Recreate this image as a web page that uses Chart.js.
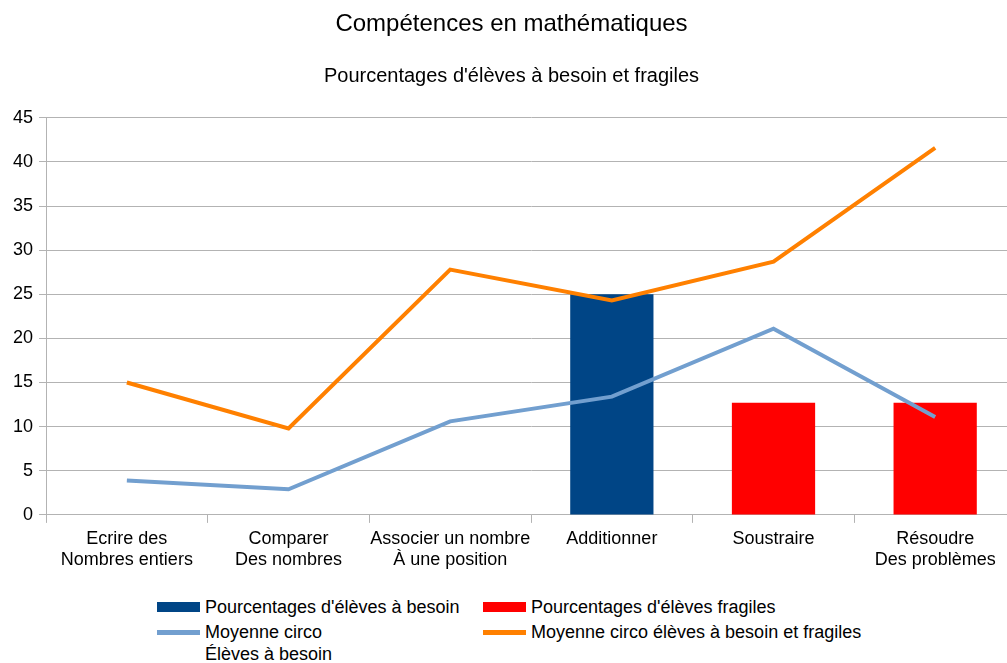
<!DOCTYPE html>
<html>
<head>
<meta charset="utf-8">
<script src="https://cdn.jsdelivr.net/npm/chart.js@4"></script>
<style>
  html, body { margin: 0; padding: 0; background: #fff; overflow: hidden; }
  body { width: 1007px; height: 663px; position: relative; font-family: "Liberation Sans", Arial, sans-serif; }
  #wrap { position: absolute; left: 0; top: 0; width: 1016px; height: 577px; }
  #legend { position: absolute; left: 157px; top: 596px; display: grid; grid-template-columns: 326px 380px; row-gap: 3px; font-size: 18px; color: #000; }
  .item { display: flex; align-items: flex-start; white-space: pre; line-height: 22px; }
  .sw { width: 43px; margin-right: 5px; flex: none; }
</style>
</head>
<body>
<div id="wrap"><canvas id="chart"></canvas></div>
<div id="legend"></div>
<script>
const categories = [
    ["Ecrire des", "Nombres entiers"],
    ["Comparer", "Des nombres"],
    ["Associer un nombre", "À une position"],
    "Additionner",
    "Soustraire",
    ["Résoudre", "Des problèmes"],
];
const besoin = [0, 0, 0, 25, 0, 0];
const fragiles = [0, 0, 0, 0, 12.7, 12.7];
const moyenneBesoin = [3.9, 2.9, 10.6, 13.4, 21.1, 11.1];
const moyenneTotal = [15, 9.8, 27.8, 24.3, 28.7, 41.6];
const yTicks = [0, 5, 10, 15, 20, 25, 30, 35, 40, 45];

const grey = "#b3b3b3";

const datasets = [
    {type: "bar", label: "Pourcentages d'élèves à besoin", data: besoin, backgroundColor: "#004586", grouped: false, order: 2},
    {type: "bar", label: "Pourcentages d'élèves fragiles", data: fragiles, backgroundColor: "#ff0000", grouped: false, order: 2},
    {type: "line", label: "Moyenne circo\nÉlèves à besoin", data: moyenneBesoin, borderColor: "#729fcf", backgroundColor: "#729fcf", borderWidth: 4, pointRadius: 0, order: 0},
    {type: "line", label: "Moyenne circo élèves à besoin et fragiles", data: moyenneTotal, borderColor: "#ff8000", backgroundColor: "#ff8000", borderWidth: 4, pointRadius: 0, order: 0},
];

new Chart(document.getElementById("chart"), {
    type: "bar",
    data: {labels: categories, datasets: datasets},
    options: {
        responsive: true,
        maintainAspectRatio: false,
        animation: false,
        barPercentage: 0.515,
        categoryPercentage: 1,
        layout: {padding: {left: 7, right: 0, top: 0, bottom: 0}},
        plugins: {
            legend: {display: false},
            tooltip: {enabled: false},
            title: {
                display: true,
                text: "Compétences en mathématiques",
                color: "#000",
                font: {family: "Liberation Sans", size: 24, weight: "normal"},
                padding: {top: 10, bottom: 0},
            },
            subtitle: {
                display: true,
                text: "Pourcentages d'élèves à besoin et fragiles",
                color: "#000",
                font: {family: "Liberation Sans", size: 20, weight: "normal"},
                padding: {top: 26, bottom: 29},
            },
        },
        scales: {
            x: {
                offset: true,
                grid: {display: true, drawOnChartArea: false, drawTicks: true, tickLength: 8, color: grey, offset: true},
                border: {color: grey},
                ticks: {color: "#000", font: {family: "Liberation Sans", size: 18, lineHeight: 1.17}, maxRotation: 0, autoSkip: false, padding: 6},
            },
            y: {
                min: 0,
                max: 45,
                afterBuildTicks: (scale) => { scale.ticks = yTicks.map(v => ({value: v})); },
                grid: {color: grey, tickLength: 7},
                border: {color: grey},
                ticks: {color: "#000", font: {family: "Liberation Sans", size: 18}, padding: 6},
            },
        },
    },
});

const legend = document.getElementById("legend");
datasets.forEach(ds => {
    const item = document.createElement("div");
    item.className = "item";
    const sw = document.createElement("span");
    sw.className = "sw";
    const h = ds.type === "bar" ? 10 : 5;
    sw.style.height = h + "px";
    sw.style.marginTop = (11 - h / 2) + "px";
    sw.style.background = ds.backgroundColor;
    item.appendChild(sw);
    item.appendChild(document.createTextNode(ds.label));
    legend.appendChild(item);
});
</script>
</body>
</html>
